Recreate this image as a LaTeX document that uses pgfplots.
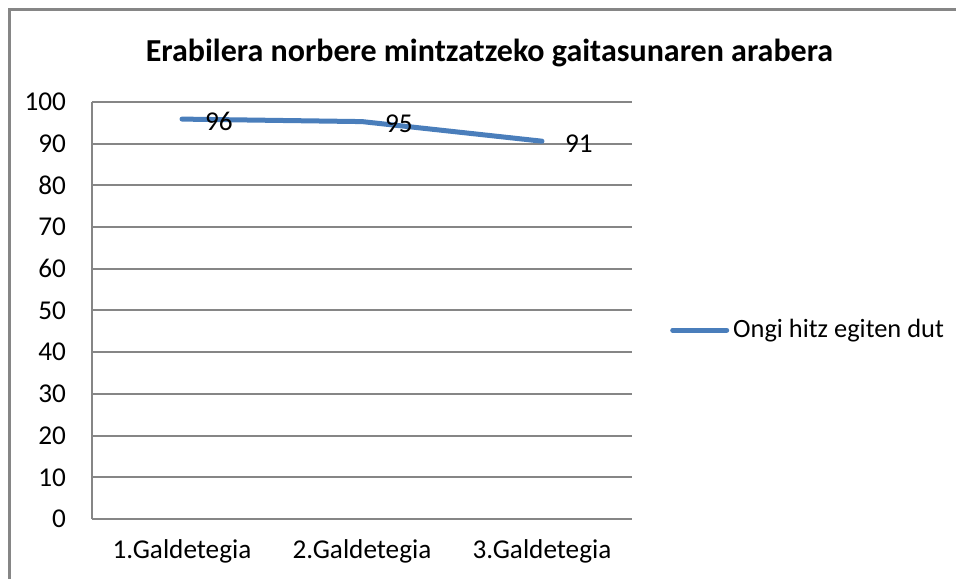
\documentclass[border=0pt]{standalone}
\usepackage{pgfplots}
\pgfplotsset{compat=1.18}
\usepackage{fontspec}
\setmainfont{Carlito}
\definecolor{xlblue}{HTML}{4A7EBB}
\definecolor{gridgray}{HTML}{868686}
\begin{document}
\begin{tikzpicture}
\path[use as bounding box] (0,0) rectangle (478pt,289pt);
\draw[gridgray, line width=1.5pt] (4.5pt,-2pt) -- (4.5pt,284pt) -- (480pt,284pt);
\node[font=\fontsize{16}{19}\selectfont\bfseries] at (244.75pt,262.5pt) {Erabilera norbere mintzatzeko gaitasunaren arabera};
\begin{axis}[
  at={(46pt,29.5pt)}, anchor=south west,
  scale only axis, width=270pt, height=208.5pt,
  xmin=-0.5, xmax=2.5, ymin=0, ymax=100,
  xtick={0,1,2}, xticklabels={1.Galdetegia,2.Galdetegia,3.Galdetegia},
  ytick={0,10,...,100},
  axis x line*=bottom, axis y line*=left,
  axis line style={gridgray, line width=1pt, -},
  ymajorgrids, major grid style={gridgray, line width=1pt},
  major tick length=0pt,
  tick style={draw=none},
  /pgf/number format/assume math mode=true,
  ticklabel style={font=\fontsize{13.6}{16}\selectfont},
  yticklabel style={anchor=east, xshift=-9.5pt},
  xticklabel style={anchor=center, yshift=-16pt},
  legend style={at={(1.070,0.453)}, anchor=west, draw=none, fill=none, inner sep=0pt,
    font=\fontsize{13.2}{16}\selectfont, /tikz/every even column/.append style={column sep=0pt}},
  legend cell align=left,
  legend image code/.code={\draw[#1, line cap=round] (0pt,0pt) -- (27pt,0pt);},
  clip=false,
]
\addplot[xlblue, line width=2.5pt, line cap=round, line join=round,
  point meta=explicit symbolic,
  nodes near coords, every node near coord/.style={anchor=west, xshift=7pt, yshift=-1pt, font=\fontsize{13.6}{16}\selectfont, black}]
  table[meta=lab] {
x y lab
0 95.9 96
1 95.3 95
2 90.6 91
};
\addlegendentry{Ongi hitz egiten dut}
\end{axis}
\end{tikzpicture}
\end{document}
